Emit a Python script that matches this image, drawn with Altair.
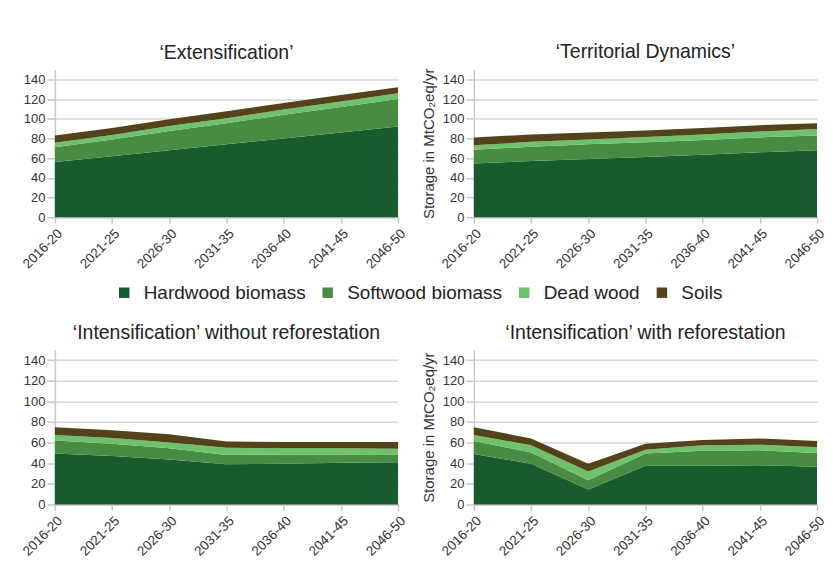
import altair as alt
import pandas as pd

periods = ["2016-20", "2021-25", "2026-30", "2031-35", "2036-40", "2041-45", "2046-50"]
components = ["Hardwood biomass", "Softwood biomass", "Dead wood", "Soils"]
colors = ["#185b2f", "#4a8b44", "#6dc26b", "#54421b"]

titles = [
    "\u2018Extensification\u2019",
    "\u2018Territorial Dynamics\u2019",
    "\u2018Intensification\u2019 without reforestation",
    "\u2018Intensification\u2019 with reforestation",
]

ext_hardwood = [56, 62, 68, 74, 80, 86, 92]
ext_softwood = [15, 17, 19.5, 21.5, 24, 26, 28]
ext_deadwood = [4.5, 4.5, 5, 5, 5.5, 5.5, 6]
ext_soils = [7.5, 7, 7, 7, 6.5, 6.5, 6]

ter_hardwood = [54.5, 57, 59, 61, 63.5, 66, 68]
ter_softwood = [14, 14.5, 15, 15, 15, 15, 15]
ter_deadwood = [4.5, 5, 5, 5.5, 5.5, 6, 6.5]
ter_soils = [8, 7.5, 7, 6.5, 6.5, 6.5, 6]

int_nr_hardwood = [49.5, 47, 43.5, 39, 39.5, 40.5, 41]
int_nr_softwood = [12.5, 12, 11, 9, 9, 8, 7.5]
int_nr_deadwood = [5.5, 5.5, 5.5, 7, 6, 6, 5.5]
int_nr_soils = [7.5, 7.5, 8, 6, 6, 6, 6.5]

int_r_hardwood = [49, 39.5, 14.5, 37.5, 37.5, 38, 36.5]
int_r_softwood = [12.5, 11, 9, 12, 14.5, 14.5, 13.5]
int_r_deadwood = [6, 7, 8.5, 3.5, 5.5, 5.5, 5.5]
int_r_soils = [7.5, 6.5, 7.5, 6, 5, 6, 6]

y_ticks = [0, 20, 40, 60, 80, 100, 120, 140]
y_title = "Storage in MtCO\u2082eq/yr"

FONT = "Liberation Sans"


def make_df(series):
    rows = []
    for ci, (comp, vals) in enumerate(zip(components, series)):
        for p, v in zip(periods, vals):
            rows.append({"period": p, "component": comp, "order": ci, "value": v})
    return pd.DataFrame(rows)


legend = alt.Legend(
    orient="none", legendX=60, legendY=214, direction="horizontal", title=None,
    symbolType="square", symbolSize=110, symbolStrokeWidth=0, labelFontSize=19,
    labelFont=FONT, labelColor="#222", columnPadding=12, labelOffset=10, labelLimit=400,
)


def panel(title, series, show_title, height):
    df = make_df(series)
    return alt.Chart(df).mark_area(interpolate="linear").encode(
        x=alt.X("period:N", sort=periods, scale=alt.Scale(padding=0),
                axis=alt.Axis(title=None, labelAngle=-45, labelAlign="right", labelBaseline="top",
                              labelFontSize=13.5, labelColor="#333", labelPadding=3,
                              domainColor="#c8c8c8", tickColor="#c8c8c8", domainWidth=1.5,
                              tickWidth=1.5, tickSize=6, labelFont=FONT, grid=False)),
        y=alt.Y("value:Q", stack="zero", scale=alt.Scale(domain=[0, 150], nice=False),
                axis=alt.Axis(values=y_ticks, title=y_title if show_title else None,
                              titleFontSize=15, titleFontWeight="normal", titleColor="#333",
                              titleFont=FONT, titlePadding=6,
                              labelFontSize=13, labelColor="#333", labelFont=FONT, labelPadding=2,
                              domainColor="#c8c8c8", tickColor="#c8c8c8", domainWidth=1.5,
                              tickWidth=1.5, tickSize=8, gridColor="#d6d6d6", gridWidth=1.5)),
        color=alt.Color("component:N", sort=components,
                        scale=alt.Scale(domain=components, range=colors), legend=legend),
        order=alt.Order("order:Q", sort="ascending"),
    ).properties(
        width=344, height=height,
        title=alt.TitleParams(title, fontSize=19.5, font=FONT, fontWeight="normal",
                              color="#222", offset=6, frame="group"),
    )


p1 = panel(titles[0], [ext_hardwood, ext_softwood, ext_deadwood, ext_soils], False, 148)
p2 = panel(titles[1], [ter_hardwood, ter_softwood, ter_deadwood, ter_soils], True, 148)
p3 = panel(titles[2], [int_nr_hardwood, int_nr_softwood, int_nr_deadwood, int_nr_soils], False, 155)
p4 = panel(titles[3], [int_r_hardwood, int_r_softwood, int_r_deadwood, int_r_soils], True, 155)

top = alt.hconcat(p1, p2, spacing=13)
bottom = alt.hconcat(p3, p4, spacing=13)

chart = alt.vconcat(top, bottom, spacing=52).properties(
    padding={"left": 11, "top": 33, "right": 0, "bottom": 0},
    background="white",
).configure_view(stroke=None)

chart.save("out.html", embed_options={"renderer": "svg", "actions": False})
